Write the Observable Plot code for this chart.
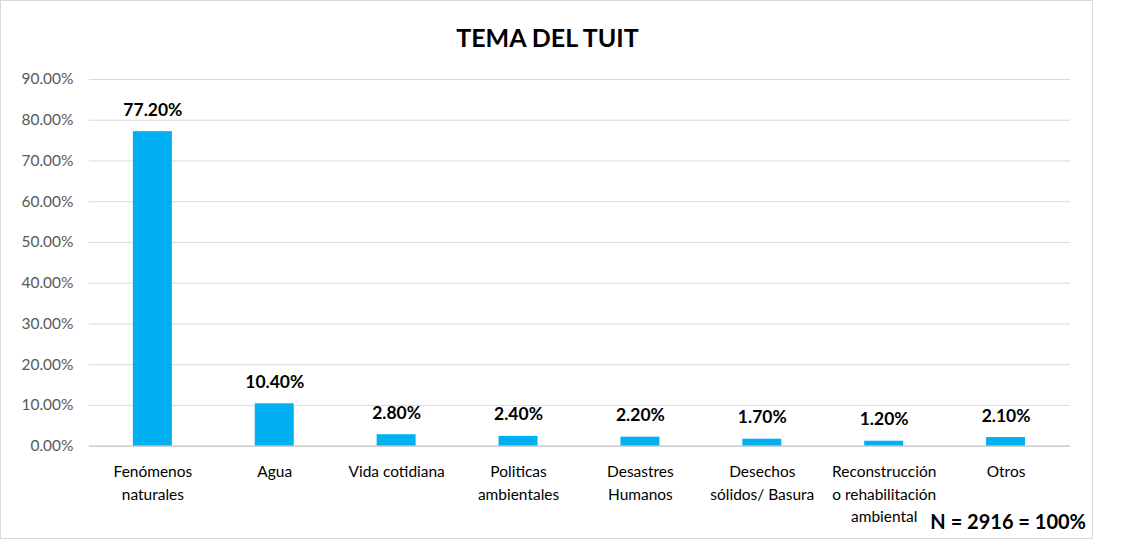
<!DOCTYPE html>
<html>
<head>
<meta charset="utf-8">
<script src="https://cdn.jsdelivr.net/npm/d3@7"></script>
<script src="https://cdn.jsdelivr.net/npm/@observablehq/plot@0.6"></script>
<style>
  body { margin: 0; background: #fff; font-family: Lato, "Open Sans", sans-serif; }
  #frame { position: absolute; left: 0; top: 0; width: 1091px; height: 537px; border: 1px solid #d9d9d9; background: #fff; }
  #title { position: absolute; left: 0; width: 1093px; top: 21px; text-align: center; font-size: 25px; font-weight: bold; color: #000; }
  #chart { position: absolute; left: 0; top: 60px; }
  #note { position: absolute; right: 6px; top: 508px; font-size: 20px; font-weight: bold; color: #000; }
</style>
</head>
<body>
<div id="frame">
  <div id="title">TEMA DEL TUIT</div>
  <div id="chart"></div>
  <div id="note">N = 2916 = 100%</div>
</div>
<script>
const categories = ["Fenómenos naturales", "Agua", "Vida cotidiana", "Politicas ambientales", "Desastres Humanos", "Desechos sólidos/ Basura", "Reconstrucción o rehabilitación ambiental", "Otros"];
const tickLabels = ["Fenómenos\nnaturales", "Agua", "Vida cotidiana", "Politicas\nambientales", "Desastres\nHumanos", "Desechos\nsólidos/ Basura", "Reconstrucción\no rehabilitación\nambiental", "Otros"];
const values = [0.772, 0.104, 0.028, 0.024, 0.022, 0.017, 0.012, 0.021];
const yTicks = [0, 0.1, 0.2, 0.3, 0.4, 0.5, 0.6, 0.7, 0.8, 0.9];

const data = categories.map((c, i) => ({cat: c, value: values[i]}));
const labelOf = new Map(categories.map((c, i) => [c, tickLabels[i]]));
const pct = d3.format(".2%");

const chart = Plot.plot({
  width: 1092,
  height: 478,
  marginLeft: 88,
  marginRight: 22,
  marginTop: 18,
  marginBottom: 93,
  style: { fontFamily: "Lato, 'Open Sans', sans-serif", background: "transparent" },
  x: { domain: categories, paddingInner: 0.68, paddingOuter: 0.34, label: null },
  y: { domain: [0, 0.9], label: null },
  marks: [
    Plot.gridY(yTicks, { stroke: "#d9d9d9", strokeOpacity: 1 }),
    Plot.axisY(yTicks, { tickSize: 0, tickPadding: 16, tickFormat: pct, fontSize: 15.5, fill: "#595959", label: null }),
    Plot.axisX({ tickSize: 0, tickPadding: 15, tickFormat: d => labelOf.get(d), fontSize: 15.5, lineHeight: 1.45, fill: "#000", label: null }),
    Plot.barY(data, { x: "cat", y: "value", fill: "#00B0F0" }),
    Plot.ruleY([0], { stroke: "#bfbfbf" }),
    Plot.text(data, { x: "cat", y: "value", text: d => pct(d.value), lineAnchor: "bottom", dy: -16, fontSize: 17.5, fontWeight: "bold", fill: "#000" })
  ]
});
document.getElementById("chart").appendChild(chart);
</script>
</body>
</html>
